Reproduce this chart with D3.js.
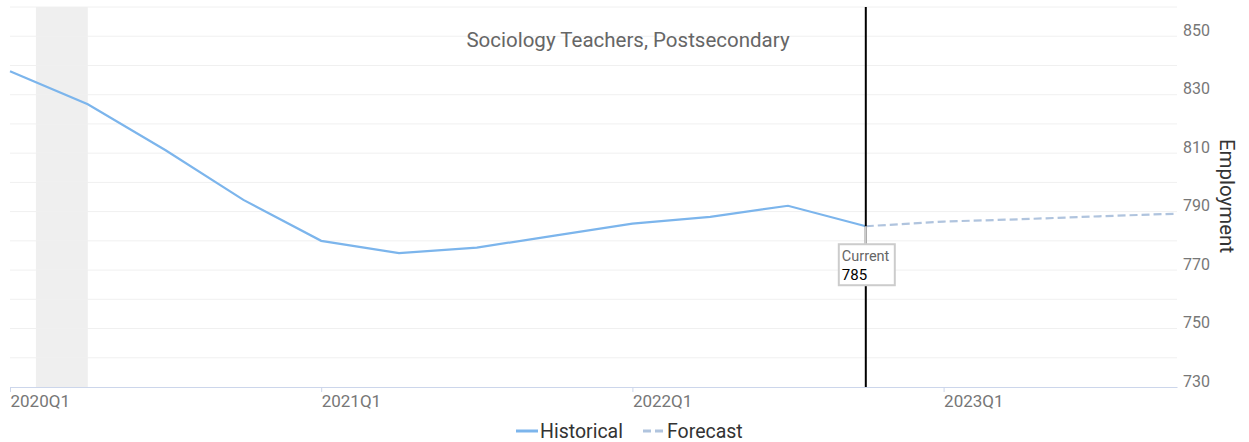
<!DOCTYPE html>
<html>
<head>
<meta charset="utf-8">
<script src="https://cdn.jsdelivr.net/npm/d3@7"></script>
<style>
  body { margin: 0; background: #fff; }
  text { font-family: Roboto, sans-serif; }
</style>
</head>
<body>
<script>
// quarters on the x axis
let quarters = ["2020Q1","2020Q2","2020Q3","2020Q4","2021Q1","2021Q2","2021Q3","2021Q4",
                "2022Q1","2022Q2","2022Q3","2022Q4","2023Q1","2023Q2","2023Q3","2023Q4"];
let historical = [838, 826.7, 811, 794, 780, 775.8, 777.7, 781.8, 785.9, 788.2, 792, 785];
let forecastQuarters = ["2022Q4","2023Q1","2023Q2","2023Q3","2023Q4"];
let forecast = [785, 786.6, 787.4, 788.4, 789.3];
let yTicks = [730, 750, 770, 790, 810, 830, 850];
let xTicks = ["2020Q1","2021Q1","2022Q1","2023Q1"];
let currentQuarter = "2022Q4";
let currentValue = 785;

var width = 1249, height = 442;
var plotLeft = 10, plotRight = 1177, plotTop = 7, plotBottom = 387;

var svg = d3.select("body").append("svg")
  .attr("width", width)
  .attr("height", height);

var xScale = d3.scalePoint().domain(quarters).range([plotLeft, plotRight]);
var yScale = d3.scaleLinear().domain([730, 860]).range([plotBottom, plotTop]);

// recession band (Feb 2020 - Apr 2020)
var step = xScale.step();
svg.append("rect")
  .attr("x", xScale("2020Q1") + step / 3)
  .attr("y", plotTop)
  .attr("width", xScale("2020Q2") - xScale("2020Q1") - step / 3)
  .attr("height", plotBottom - plotTop)
  .attr("fill", "#efefef");

// gridlines every 10
svg.append("g")
  .selectAll("line")
  .data(d3.range(740, 861, 10))
  .enter()
  .append("line")
  .attr("x1", plotLeft)
  .attr("x2", plotRight)
  .attr("y1", function(d) { return yScale(d); })
  .attr("y2", function(d) { return yScale(d); })
  .attr("stroke", "#f0f0f0")
  .attr("stroke-width", 1);

// right axis labels
var yAxis = d3.axisRight(yScale).tickValues(yTicks).tickSize(0).tickPadding(6);
var gy = svg.append("g")
  .attr("transform", "translate(" + plotRight + ",0)")
  .call(yAxis);
gy.select(".domain").remove();
gy.selectAll("text")
  .attr("fill", "#777")
  .attr("font-size", "16px")
  .attr("font-family", "Roboto, sans-serif")
  .attr("dy", "-1px")
  .attr("x", 6);

svg.append("text")
  .text("Employment")
  .attr("transform", "translate(1220,196) rotate(90)")
  .attr("text-anchor", "middle")
  .attr("font-size", "20.5px")
  .attr("fill", "#333");

// bottom axis
var xAxis = d3.axisBottom(xScale).tickValues(xTicks).tickSize(5).tickSizeOuter(0);
var gx = svg.append("g")
  .attr("transform", "translate(0," + plotBottom + ")")
  .call(xAxis);
gx.select(".domain").attr("stroke", "#ccd6eb");
gx.selectAll(".tick line").attr("stroke", "#ccd6eb");
gx.selectAll("text")
  .attr("fill", "#777")
  .attr("font-size", "17px")
  .attr("font-family", "Roboto, sans-serif")
  .attr("text-anchor", "start")
  .attr("x", 0)
  .attr("y", 20)
  .attr("dy", "0");

// title
svg.append("text")
  .text("Sociology Teachers, Postsecondary")
  .attr("x", 628)
  .attr("y", 47)
  .attr("text-anchor", "middle")
  .attr("font-size", "20.5px")
  .attr("fill", "#666");

// lines
var histLine = d3.line()
  .x(function(d, i) { return xScale(quarters[i]); })
  .y(function(d) { return yScale(d); });
svg.append("path")
  .datum(historical)
  .attr("d", histLine)
  .attr("fill", "none")
  .attr("stroke", "#7cb5ec")
  .attr("stroke-width", 2.2);

var foreLine = d3.line()
  .x(function(d, i) { return xScale(forecastQuarters[i]); })
  .y(function(d) { return yScale(d); });
svg.append("path")
  .datum(forecast)
  .attr("d", foreLine)
  .attr("fill", "none")
  .attr("stroke", "#b0c4de")
  .attr("stroke-width", 2.2)
  .attr("stroke-dasharray", "8,4");

// current marker line
var cx = xScale(currentQuarter);
svg.append("line")
  .attr("x1", cx).attr("x2", cx)
  .attr("y1", plotTop).attr("y2", plotBottom)
  .attr("stroke", "#000")
  .attr("stroke-width", 2);

// tooltip
var cy = yScale(currentValue);
var boxTop = cy + 18;
svg.append("line")
  .attr("x1", cx).attr("x2", cx)
  .attr("y1", cy).attr("y2", boxTop)
  .attr("stroke", "#ccc")
  .attr("stroke-width", 2);
svg.append("rect")
  .attr("x", cx - 27)
  .attr("y", boxTop)
  .attr("width", 56)
  .attr("height", 41)
  .attr("fill", "#fff")
  .attr("stroke", "#ccc")
  .attr("stroke-width", 2);
svg.append("text")
  .text("Current")
  .attr("x", cx - 24)
  .attr("y", boxTop + 17)
  .attr("font-size", "14.5px")
  .attr("fill", "#666");
svg.append("text")
  .text(currentValue)
  .attr("x", cx - 24)
  .attr("y", boxTop + 35.5)
  .attr("font-size", "15px")
  .attr("fill", "#000");

// legend
var legend = svg.append("g").attr("transform", "translate(0,431)");
legend.append("line")
  .attr("x1", 516).attr("x2", 538).attr("y1", 0).attr("y2", 0)
  .attr("stroke", "#7cb5ec").attr("stroke-width", 3);
legend.append("text")
  .text("Historical")
  .attr("x", 540).attr("y", 7)
  .attr("font-size", "19.5px")
  .attr("font-family", "'Liberation Sans', Arial, sans-serif")
  .attr("fill", "#333");
legend.append("line")
  .attr("x1", 643).attr("x2", 664).attr("y1", 0).attr("y2", 0)
  .attr("stroke", "#b0c4de").attr("stroke-width", 3)
  .attr("stroke-dasharray", "8,4");
legend.append("text")
  .text("Forecast")
  .attr("x", 667).attr("y", 7)
  .attr("font-size", "19.5px")
  .attr("font-family", "'Liberation Sans', Arial, sans-serif")
  .attr("fill", "#333");
</script>
</body>
</html>
